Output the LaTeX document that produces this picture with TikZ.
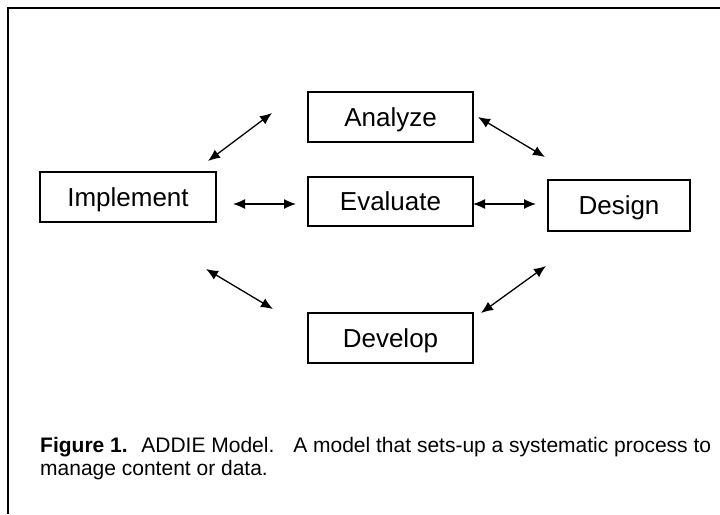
\documentclass[tikz,border=0pt]{standalone}
\usepackage{fontspec}
\setmainfont{Liberation Sans}
\usetikzlibrary{arrows.meta}
\begin{document}
\begin{tikzpicture}[x=1pt,y=-1pt,
  stagebox/.style={draw,line width=1.8pt,inner sep=0pt,text depth=0pt,font=\fontsize{26}{30}\selectfont},
  link/.style={line width=1.3pt,{Latex[length=12pt,width=10pt]}-{Latex[length=12pt,width=10pt]}},
  captext/.style={anchor=base west,inner sep=0pt,font=\fontsize{21}{24}\selectfont}]
\useasboundingbox (0,0) rectangle (720,514);
\draw[line width=2pt] (8,514) -- (8,8) -- (720,8);
\node[stagebox,minimum width=165pt,minimum height=50pt] (ana) at (390.5,117) {Analyze};
\node[stagebox,minimum width=165pt,minimum height=49pt] (eva) at (390.5,201.5) {Evaluate};
\node[stagebox,minimum width=165pt,minimum height=50pt] (dev) at (390.5,338) {Develop};
\node[stagebox,minimum width=176pt,minimum height=50pt] (imp) at (128,197) {Implement};
\node[stagebox,minimum width=142pt,minimum height=51pt] (des) at (619,205.5) {Design};
\coordinate (ia1) at (208,161); \coordinate (ia2) at (272,113);
\coordinate (ad1) at (478,117); \coordinate (ad2) at (545,157);
\coordinate (ie1) at (233,204); \coordinate (ie2) at (296,204);
\coordinate (ed1) at (473,204); \coordinate (ed2) at (536,204);
\coordinate (iv1) at (206,269); \coordinate (iv2) at (273,309);
\coordinate (vd1) at (481,313); \coordinate (vd2) at (546,266);
\draw[link] (ia1) -- (ia2);
\draw[link] (ad1) -- (ad2);
\draw[link] (ie1) -- (ie2);
\draw[link] (ed1) -- (ed2);
\draw[link] (iv1) -- (iv2);
\draw[link] (vd1) -- (vd2);
\node[captext] (cap1) at (40,452) {\textbf{Figure 1.}\hspace{0.65em}ADDIE Model.\hspace{0.9em}A model that sets-up a systematic process to};
\node[captext] (cap2) at (40,475) {manage content or data.};
\end{tikzpicture}
\end{document}
